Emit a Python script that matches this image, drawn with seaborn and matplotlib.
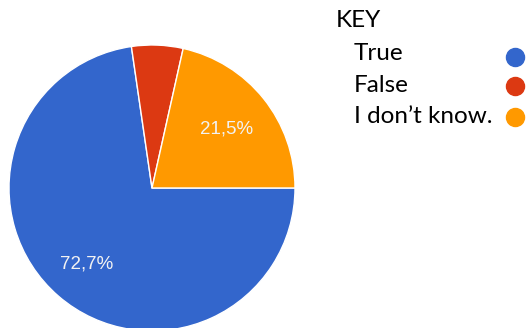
import matplotlib
matplotlib.use("Agg")
import numpy as np
import matplotlib.pyplot as plt
from matplotlib.lines import Line2D
import seaborn as sns

categories = ["True", "False", "I don\u2019t know."]
values = [72.7, 5.8, 21.5]
pct_labels = ["72,7%", "", "21,5%"]
colors = ["#3366cc", "#dc3912", "#ff9900"]

sns.set_theme(style="white")
plt.rcParams["font.family"] = ["Liberation Sans", "DejaVu Sans"]

W, H = 526, 328
fig = plt.figure(figsize=(W / 100, H / 100), dpi=100)
fig.patch.set_facecolor("white")

cx, cy, r = 152, 188, 143
ax = fig.add_axes([(cx - r) / W, (H - cy - r) / H, 2 * r / W, 2 * r / H])
wedges, texts = ax.pie(values, colors=colors, startangle=0, counterclock=False,
                       labels=pct_labels, labeldistance=0.7,
                       wedgeprops=dict(edgecolor="white", linewidth=1))
label_dist = [0.70, 0.70, 0.665]
for w, t, d in zip(wedges, texts, label_dist):
    mid = np.deg2rad((w.theta1 + w.theta2) / 2)
    t.set_position((d * np.cos(mid), d * np.sin(mid)))
    t.set_color("#f2f2f2")
    t.set_fontsize(13.5)
    t.set_ha("center")
    t.set_va("center")
ax.set_xlim(-1, 1)
ax.set_ylim(-1, 1)
ax.set_aspect("equal")
ax.axis("off")

# key
kfont = ["Lato", "DejaVu Sans"]
fs = 17.5
fig.text(336 / W, 1 - 27 / H, "KEY", fontsize=fs, family=kfont, va="baseline", ha="left",
         color="black")
baselines = [60, 92, 123]
circle_y = [57, 86, 117]
for name, col, yb, yc in zip(categories, colors, baselines, circle_y):
    fig.text(354 / W, 1 - yb / H, name, fontsize=fs, family=kfont, va="baseline", ha="left",
             color="black")
    fig.lines.append(Line2D([515 / W], [1 - yc / H], marker="o", markersize=13,
                            color=col, transform=fig.transFigure))

fig.savefig("out.png", dpi=100)
